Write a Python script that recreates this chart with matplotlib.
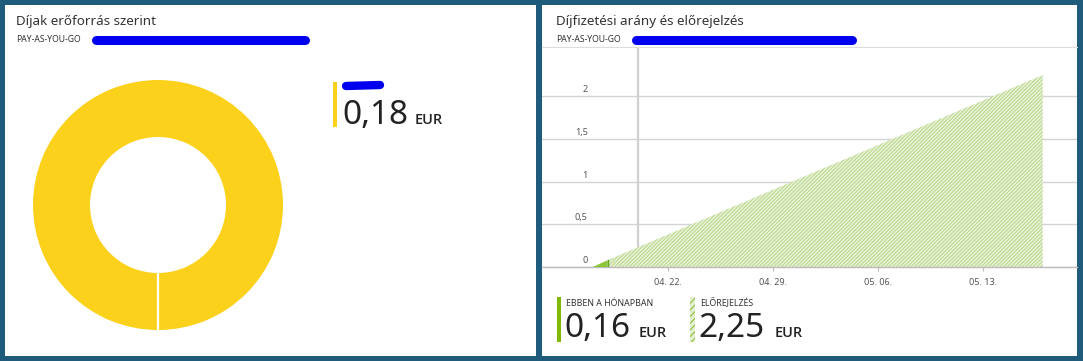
import matplotlib
matplotlib.use("Agg")
import matplotlib.pyplot as plt
import matplotlib.dates as mdates
from matplotlib.patches import Rectangle
from matplotlib.lines import Line2D
from matplotlib.transforms import ScaledTranslation
from datetime import datetime

plt.rcParams['font.family'] = ['Noto Sans', 'DejaVu Sans']
plt.rcParams['hatch.linewidth'] = 0.8

# ---------------- data ----------------
donut_labels = ['Erőforrás']
donut_values = [0.18]
donut_total_text = '0,18'

actual_dates = ['2019-04-17', '2019-04-18']
actual_values = [0.0, 0.08]
forecast_dates = ['2019-04-18', '2019-05-17']
forecast_values = [0.08, 2.25]
today_date = '2019-04-20'

xtick_dates = ['2019-04-22', '2019-04-29', '2019-05-06', '2019-05-13']
xtick_labels = ['04. 22.', '04. 29.', '05. 06.', '05. 13.']
ytick_values = [0, 0.5, 1, 1.5, 2]
ytick_labels = ['0', '0,5', '1', '1,5', '2']

month_cost_text = '0,16'
forecast_cost_text = '2,25'
currency = 'EUR'

# ---------------- layout helpers ----------------
W, H = 1083, 361
BORDER = '#1f5b7a'
TXT = '#333333'
BIG = '#222222'
YELLOW = '#FBD11B'
GREEN = '#7fba00'
HATCH_GREEN = '#bcd98f'
EUR_FONT = dict(family=['Open Sans', 'DejaVu Sans'], fontweight='semibold')


def rect(x0, y0, x1, y1):
    return [x0 / W, 1 - y1 / H, (x1 - x0) / W, (y1 - y0) / H]


def fx(x):
    return x / W


def fy(y):
    return 1 - y / H


fig = plt.figure(figsize=(W / 100, H / 100), dpi=100)
fig.patch.set_facecolor(BORDER)

# white panels
for (x0, y0, x1, y1) in [(5, 5, 536, 356), (542, 5, 1077, 356)]:
    fig.patches.append(Rectangle((fx(x0), fy(y1)), (x1 - x0) / W, (y1 - y0) / H,
                                 transform=fig.transFigure, facecolor='white',
                                 edgecolor='none', zorder=-5))

# titles
for x0, title, scrib_end in [(16, 'Díjak erőforrás szerint', 305),
                             (556, 'Díjfizetési arány és előrejelzés', 852)]:
    fig.text(fx(x0), fy(22), title, fontsize=9.7, color=TXT, va='center', ha='left')
    fig.text(fx(x0), fy(40), 'PAY-AS-YOU-GO', fontsize=6.2, color=TXT, va='center', ha='left')
    fig.lines.append(Line2D([fx(x0 + 80), fx(scrib_end)], [fy(40), fy(40)],
                            transform=fig.transFigure, color='#0000ee', lw=6.5,
                            solid_capstyle='round'))

# ---------------- donut ----------------
axd = fig.add_axes(rect(33, 80, 283, 330))
axd.patch.set_alpha(0)
inner_frac = 68 / 125
axd.pie(donut_values, labels=None, colors=[YELLOW], startangle=270, counterclock=False,
        radius=1, wedgeprops=dict(width=1 - inner_frac, edgecolor='none'))
axd.plot([0, 0], [-1.0, -inner_frac], color='white', lw=1.6)
axd.set_xlim(-1, 1)
axd.set_ylim(-1, 1)
axd.set_aspect('equal')
axd.axis('off')

# donut legend
fig.patches.append(Rectangle((fx(333), fy(127)), 4 / W, 45 / H, transform=fig.transFigure,
                             facecolor=YELLOW, edgecolor='none'))
fig.lines.append(Line2D([fx(346), fx(380)], [fy(86), fy(85)], transform=fig.transFigure,
                        color='#0000ee', lw=6, solid_capstyle='round'))
fig.text(fx(342), fy(124), donut_total_text, fontsize=24, color=BIG, va='baseline', ha='left')
fig.text(fx(415), fy(124), currency, fontsize=10.5, color=BIG, va='baseline', ha='left',
         **EUR_FONT)

# ---------------- area chart ----------------
ax = fig.add_axes(rect(542, 47, 1077, 267))
ax.patch.set_alpha(0)
ad = mdates.date2num([datetime.fromisoformat(d) for d in actual_dates])
fd = mdates.date2num([datetime.fromisoformat(d) for d in forecast_dates])
td = mdates.date2num(datetime.fromisoformat(today_date))
xt = mdates.date2num([datetime.fromisoformat(d) for d in xtick_dates])

ax.fill_between(fd, 0, forecast_values, facecolor='#e9f2d9', edgecolor=HATCH_GREEN,
                hatch='/////////', linewidth=0, zorder=2)
ax.fill_between(ad, 0, actual_values, facecolor='#8cc43a', edgecolor='none', zorder=3)
ax.plot([ad[-1], ad[-1]], [0, actual_values[-1]], color='#6aa51f', lw=1, zorder=3)

ax.axvline(td, color='#d0d0d0', lw=1.6, zorder=1)

px_per_day = 15.0
ax.set_xlim(xt[0] - (667.7 - 542) / px_per_day, xt[0] + (1077 - 667.7) / px_per_day)
ax.set_ylim(0, (267 - 47) / 85.3)

ax.set_yticks(ytick_values)
ax.set_yticklabels(ytick_labels)
ax.yaxis.grid(True, color='#d3d3d3', lw=1)
ax.set_axisbelow(True)
ax.tick_params(axis='y', length=0, pad=-33, labelsize=6.5, labelcolor='#555555')
for lab in ax.get_yticklabels():
    lab.set_horizontalalignment('right')
    lab.set_verticalalignment('bottom')
    lab.set_transform(lab.get_transform() + ScaledTranslation(0, 1.5 / 72, fig.dpi_scale_trans))

ax.set_xticks(xt)
ax.set_xticklabels(xtick_labels)
ax.tick_params(axis='x', length=3, width=0.8, color='#bbbbbb', pad=5, labelsize=6.5,
               labelcolor='#555555')

for s in ['left', 'right']:
    ax.spines[s].set_visible(False)
ax.spines['top'].set_color('#dddddd')
ax.spines['top'].set_linewidth(0.8)
ax.spines['bottom'].set_color('#bbbbbb')
ax.spines['bottom'].set_linewidth(1)

# bottom legend
fig.patches.append(Rectangle((fx(557), fy(342)), 4 / W, 45 / H, transform=fig.transFigure,
                             facecolor=GREEN, edgecolor='none'))
fig.text(fx(566), fy(303), 'EBBEN A HÓNAPBAN', fontsize=6.3, color=TXT, va='center', ha='left')
fig.text(fx(564), fy(337), month_cost_text, fontsize=24, color=BIG, va='baseline', ha='left')
fig.text(fx(639), fy(337), currency, fontsize=10.5, color=BIG, va='baseline', ha='left',
         **EUR_FONT)

fig.patches.append(Rectangle((fx(690), fy(342)), 5 / W, 45 / H, transform=fig.transFigure,
                             facecolor='#e4efcf', edgecolor='#8cbd3f', hatch='/////',
                             linewidth=0))
fig.text(fx(700), fy(303), 'ELŐREJELZÉS', fontsize=6.3, color=TXT, va='center', ha='left')
fig.text(fx(698), fy(337), forecast_cost_text, fontsize=24, color=BIG, va='baseline', ha='left')
fig.text(fx(775), fy(337), currency, fontsize=10.5, color=BIG, va='baseline', ha='left',
         **EUR_FONT)

fig.savefig('out.png', dpi=100, facecolor=fig.get_facecolor())
